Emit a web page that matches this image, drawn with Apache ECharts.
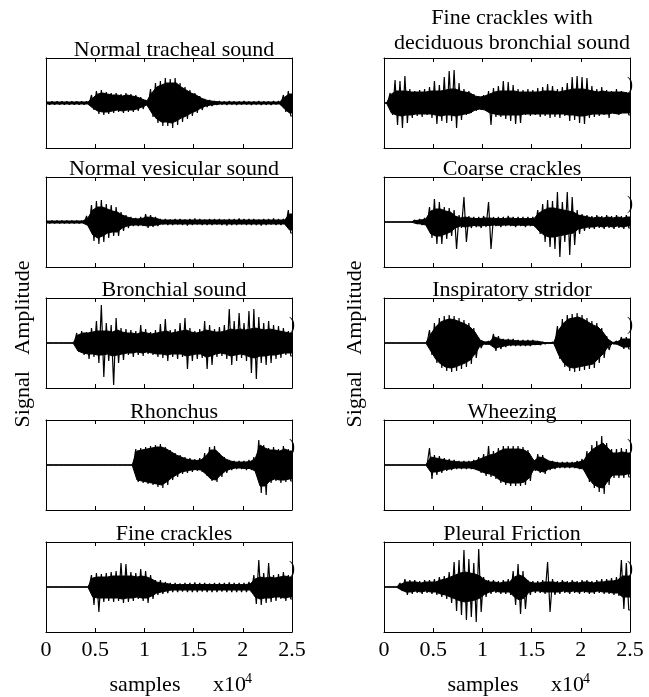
<!DOCTYPE html>
<html><head><meta charset="utf-8">
<script src="https://cdn.jsdelivr.net/npm/echarts@6/dist/echarts.min.js"></script>
<style>html,body{margin:0;padding:0;background:#fff}#c{width:649px;height:697px}</style>
</head><body><div id="c"></div>
<script>
// ---- data: per recording, 50 bins of 500 samples.
// *Hi / *Lo : peak excursion above / below zero in each bin
// *CoreHi / *CoreLo : level of the dense (solid) part of the trace in each bin
const binSize = 500;
const xMax = 25000;
const xTickLabels = ['0', '0.5', '1', '1.5', '2', '2.5'];
const xTitle = 'samples';
const xScale = 'x10';
const xScaleExp = '4';
const yTitle = 'Signal   Amplitude';

const titles = ['Normal tracheal sound', 'Normal vesicular sound', 'Bronchial sound', 'Rhonchus', 'Fine crackles',
  'Fine crackles with\ndeciduous bronchial sound', 'Coarse crackles', 'Inspiratory stridor', 'Wheezing', 'Pleural Friction'];

const trachealHi = [1.5,1.5,1.5,1.5,1.5,1.5,1.5,1.5,1.5, 8,12,13,11,10,10,9,10,9,8,6,3, 14,20,22,25,24,25,20,16,13,10,7,4,3,2, 2,1.5,2,1.5,1.5,2,1.5,1.5,2,1.5,1.5,2,2, 8,12];
const trachealLo = [1.5,1.5,1.5,1.5,1.5,1.5,1.5,1.5,1.5, 7,11,12,11,10,9,10,9,9,8,6,3, 14,20,23,23,25,22,19,16,13,10,7,4,3,2, 1.5,2,1.5,2,1.5,1.5,2,1.5,2,1.5,2,1.5,2, 9,13];
const trachealCoreHi = [1,1,1,1,1,1,1,1,1, 5,9,10,9,8,8,7,8,7,6,4,2, 10,16,18,20,20,20,16,13,10,8,5,3,2,1.5, 1,1,1,1,1,1,1,1,1,1,1,1,1, 6,9];
const trachealCoreLo = [1,1,1,1,1,1,1,1,1, 5,8,9,9,8,7,8,7,7,6,4,2, 10,16,19,19,20,18,15,13,10,8,5,3,2,1.5, 1,1,1,1,1,1,1,1,1,1,1,1,1, 6,10];

const vesicularHi = [1.2,1.2,1.2,1.2,1.2,1.2,1.2,1.2, 6,17,21,22,18,17,15,10,7,5,4,5,8,7,5, 3,3,2.5,3,3,2.5,3,3.5,3,2.5,3,3,3,2.5,3,3,3.5,3,3,3,2.5,3,3,3.5,3,3, 12];
const vesicularLo = [1.2,1.2,1.2,1.2,1.2,1.2,1.2,1.2, 5,19,22,20,16,14,14,9,6,4,4,4,6,5,4, 2.5,3,3,2.5,3,3.5,3,2.5,3,3,3,2.5,3,3.5,3,3,2.5,3,3,3,3.5,3,2.5,3,3,3, 11];
const vesicularCoreHi = [1,1,1,1,1,1,1,1, 4,12,15,15,13,11,10,7,5,3.5,3,3.5,5,4.5,3.5, 2,2,2,2,2,2,2,2,2,2,2,2,2,2,2,2,2,2,2,2,2,2,2,2,2,2, 8];
const vesicularCoreLo = [1,1,1,1,1,1,1,1, 3.5,13,16,14,11,10,10,6,4,3,3,3,4,3.5,3, 2,2,2,2,2,2,2,2,2,2,2,2,2,2,2,2,2,2,2,2,2,2,2,2,2,2, 8];

const bronchialHi = [0,0,0,0,0,0, 10,12,11,15,22,38,20,18,25,15,14,13,12,18,14,11,13,19,24,13,14,20,25,15,12,14,22,18,14,16,18,34,22,30,20,32,34,26,20,22,18,17,15,12];
const bronchialLo = [0,0,0,0,0,0, 9,12,16,14,20,34,18,42,20,17,12,14,12,13,11,12,14,15,18,14,16,14,26,18,16,15,26,22,14,13,16,22,18,15,18,30,36,20,22,20,16,15,12,13];
const bronchialCoreHi = [0,0,0,0,0,0, 8,10,10,11,12,12,12,11,13,11,10,10,9,11,10,9,10,11,12,10,11,12,13,11,10,11,13,12,11,11,12,14,13,14,13,14,15,14,13,14,13,12,11,10];
const bronchialCoreLo = [0,0,0,0,0,0, 8,10,11,11,12,12,11,13,12,11,10,10,9,10,9,10,11,11,12,11,11,11,13,12,11,11,14,13,11,10,11,13,12,11,12,14,15,13,13,12,12,11,10,10];

const rhonchusHi = [0,0,0,0,0,0,0,0,0,0,0,0,0,0,0,0,0,0, 16,17,18,19,20,21,18,15,12,10,8,7,6,7,12,18,19,12,8,5,4,4,4,5,8,25,20,17,18,16,19,16];
const rhonchusLo = [0,0,0,0,0,0,0,0,0,0,0,0,0,0,0,0,0,0, 17,18,19,20,22,23,20,15,12,9,8,7,6,7,11,16,17,12,8,5,4,4,5,5,8,28,30,18,16,18,17,16];
const rhonchusCoreHi = [0,0,0,0,0,0,0,0,0,0,0,0,0,0,0,0,0,0, 14,15,16,17,18,18,16,13,10,8,6,5,4.5,5,9,15,15,10,6,4,3,3,3,3.5,6,20,17,15,15,14,16,14];
const rhonchusCoreLo = [0,0,0,0,0,0,0,0,0,0,0,0,0,0,0,0,0,0, 15,16,17,18,19,20,17,13,10,7,6,5,4.5,5,9,14,15,10,6,4,3,3,3.5,3.5,6,21,21,16,14,15,15,14];

const fineHi = [0,0,0,0,0,0,0,0,0, 12,14,13,14,15,16,24,23,15,14,18,16,12,7,7,5, 4,4,3.5,4,4,4.5,4,4,3.5,4,4,4,4.5,4,4,4, 5,12,27,14,24,12,13,15,12];
const fineLo = [0,0,0,0,0,0,0,0,0, 18,25,15,14,15,14,16,15,14,12,14,16,12,8,7,6, 5,5,4.5,5,5,5,4.5,5,5,5,4.5,5,5,5,5,5, 5,17,18,16,15,14,12,14,12];
const fineCoreHi = [0,0,0,0,0,0,0,0,0, 9,10,10,10,11,11,11,11,11,10,11,10,8,5,4,3.5, 2.5,2.5,2.5,2.5,2.5,2.5,2.5,2.5,2.5,2.5,2.5,2.5,2.5,2.5,2.5,2.5, 3,8,10,9,10,9,10,11,10];
const fineCoreLo = [0,0,0,0,0,0,0,0,0, 10,11,11,11,11,11,12,11,11,10,11,11,9,6,5,4, 3,3,3,3,3,3,3,3,3,3,3,3,3,3,3,3, 3,10,12,11,11,10,10,11,10];

const fineBronchHi = [0, 10,23,22,27,14,12,13,14,16,22,18,26,32,33,20,14,12,9,7,8,12,15,17,22,21,18,14,13,14,13,15,16,19,17,14,16,20,26,27,26,25,17,14,16,13,12,14,12,11];
const fineBronchLo = [0, 12,22,25,20,15,13,14,12,15,21,18,20,18,25,17,12,10,8,7,8,22,14,14,16,18,21,20,12,13,12,14,13,15,14,15,13,18,17,20,21,15,14,13,12,15,11,12,10,12];
const fineBronchCoreHi = [0, 9,12,12,12,11,11,11,11,12,12,12,13,14,14,12,11,10,7,6,7,9,11,12,12,12,12,11,11,11,11,11,12,12,12,11,12,13,14,14,14,13,12,11,12,11,11,11,11,10];
const fineBronchCoreLo = [0, 10,12,13,12,12,11,11,11,11,12,13,12,12,13,12,11,10,7,6,7,10,11,12,12,12,12,12,11,11,11,11,11,11,11,11,11,12,12,13,13,12,11,11,11,11,10,11,10,10];

const coarseHi = [0,0,0,0,0,0, 2,3,4,15,23,20,15,14,12,7,25,6,5,5,6,20,5,5,5,6,5,5,5,5,5,12,18,22,21,30,20,30,25,12,8,7,6,7,6,7,6,7,6,7];
const coarseLo = [0,0,0,0,0,0, 2,3,4,16,22,22,17,14,27,6,20,6,5,6,5,27,4,5,4,4,5,4,5,4,5,12,20,25,27,35,20,33,23,12,9,7,7,6,7,6,7,6,7,6];
const coarseCoreHi = [0,0,0,0,0,0, 1.5,2,3,11,13,13,11,10,6,4,5,4,3.5,3.5,4,4,3.5,3.5,3.5,4,3.5,3.5,3.5,3.5,3.5,9,12,14,14,13,12,11,10,7,6,5,4,5,4,5,4,5,4,5];
const coarseCoreLo = [0,0,0,0,0,0, 1.5,2,3,12,14,14,12,10,6,4,5,4,3.5,4,3.5,3.5,3,3.5,3,3,3.5,3,3.5,3,3.5,9,13,15,15,14,13,12,11,7,6,5,5,4,5,4,5,4,5,4];

const stridorHi = [0,0,0,0,0,0,0,0,0, 13,20,25,27,28,27,25,23,20,15,5,1.5,2,9,7,4,4,4,3,3,3,3,2,1,0.5,1,17,24,28,29,30,28,25,22,20,15,7,1,2,6,6];
const stridorLo = [0,0,0,0,0,0,0,0,0, 12,20,25,28,29,28,26,24,21,15,5,1.5,2,8,6,4,3,3,3,3,3,2,2,1,0.5,1,16,24,28,29,28,27,26,25,20,15,7,1,2,6,6];
const stridorCoreHi = [0,0,0,0,0,0,0,0,0, 9,16,21,23,24,23,21,19,16,11,3,1,1.5,6,4,3,3,2.5,2,2,2,2,1.5,0.5,0.3,0.5,13,20,24,25,26,24,21,18,16,11,4,0.5,1.5,4,4];
const stridorCoreLo = [0,0,0,0,0,0,0,0,0, 8,16,21,24,25,24,22,20,17,11,3,1,1.5,5,4,3,2,2,2,2,2,1.5,1.5,0.5,0.3,0.5,12,20,24,25,24,23,22,21,16,11,4,0.5,1.5,4,4];

const wheezeHi = [0,0,0,0,0,0,0,0,0, 17,10,9,7,6,5,4,4,4,5,8,11,19,14,17,19,19,19,19,18,15,6,11,10,5,4,3,3,3,3,4,6,14,20,24,29,22,16,16,17,16];
const wheezeLo = [0,0,0,0,0,0,0,0,0, 14,10,8,6,5,4,4,4,4,5,8,11,12,14,18,20,21,21,21,20,16,6,8,9,5,4,3,3,3,3,4,6,17,23,27,29,20,13,13,13,12];
const wheezeCoreHi = [0,0,0,0,0,0,0,0,0, 8,7,6,5,4,3.5,3,3,3,4,6,8,10,11,14,16,16,16,16,15,12,4,8,7,4,3,2,2,2,2,3,4,11,16,19,22,17,12,12,13,12];
const wheezeCoreLo = [0,0,0,0,0,0,0,0,0, 7,7,6,4.5,4,3,3,3,3,4,6,8,9,11,15,17,18,18,18,17,13,4,6,7,4,3,2,2,2,2,3,4,13,19,22,23,16,10,10,10,9];

const pleuralHi = [0,0,0, 4,8,7,7,6,7,7,8,10,11,15,25,27,37,28,24,38,10,7,7,6,7,8,16,23,16,7,6,6,7,25,8,6,7,6,7,6,7,7,6,7,8,8,9,10,27,24];
const pleuralLo = [0,0,0, 4,8,7,6,7,6,7,8,10,12,16,24,28,33,30,35,25,10,7,6,7,7,8,18,27,22,8,6,6,7,25,8,7,6,7,6,7,6,7,7,6,7,7,8,9,22,23];
const pleuralCoreHi = [0,0,0, 3,5,5,5,4,5,5,5,7,8,10,12,14,15,14,13,11,7,5,5,4,5,5,10,12,10,5,4,4,5,5,5,4,5,4,5,4,5,5,4,5,5,6,6,7,11,11];
const pleuralCoreLo = [0,0,0, 3,5,5,4,5,4,5,5,7,8,10,12,14,15,14,13,11,7,5,4,5,5,5,10,13,11,5,4,4,5,5,5,5,4,5,4,5,4,5,5,4,5,5,6,6,10,10];

const his = [trachealHi, vesicularHi, bronchialHi, rhonchusHi, fineHi, fineBronchHi, coarseHi, stridorHi, wheezeHi, pleuralHi];
const los = [trachealLo, vesicularLo, bronchialLo, rhonchusLo, fineLo, fineBronchLo, coarseLo, stridorLo, wheezeLo, pleuralLo];
const coreHis = [trachealCoreHi, vesicularCoreHi, bronchialCoreHi, rhonchusCoreHi, fineCoreHi, fineBronchCoreHi, coarseCoreHi, stridorCoreHi, wheezeCoreHi, pleuralCoreHi];
const coreLos = [trachealCoreLo, vesicularCoreLo, bronchialCoreLo, rhonchusCoreLo, fineCoreLo, fineBronchCoreLo, coarseCoreLo, stridorCoreLo, wheezeCoreLo, pleuralCoreLo];
// panels that show the clipped ")" artefact at their right edge
const parenPanels = [2, 3, 4, 5, 6, 7, 8, 9];

// ---- layout ----
const FONT = 'Liberation Serif';
const colLeft = [46, 384];
const W = 246;
const rowTop = [58, 177, 298, 420, 542];
const H = 90;
const AMP = 45;

function toXY(arr, sign) {
  const out = [[0, sign * arr[0]]];
  arr.forEach((v, i) => out.push([binSize * i + binSize / 2, sign * v]));
  out.push([xMax, sign * arr[arr.length - 1]]);
  return out;
}
// oscillating trace: positive peak in first half of each bin, negative peak in second half
function toTrace(hi, lo) {
  const out = [[0, hi[0]]];
  hi.forEach((v, i) => {
    out.push([binSize * i + binSize / 4, v]);
    out.push([binSize * i + 3 * binSize / 4, -lo[i]]);
  });
  out.push([xMax, -lo[lo.length - 1]]);
  return out;
}

const grid = [], xAxis = [], yAxis = [], series = [], title = [], graphic = [];
for (let k = 0; k < 10; k++) {
  const col = Math.floor(k / 5), row = k % 5;
  const left = colLeft[col], top = rowTop[row];
  grid.push({left: left, top: top, width: W, height: H, show: false});
  const axBase = {
    type: 'value', gridIndex: k, min: 0, max: xMax, interval: 5000,
    axisLine: {show: true, onZero: false, lineStyle: {color: '#000', width: 1}},
    axisTick: {show: true, inside: true, length: 4, lineStyle: {color: '#000', width: 1}},
    splitLine: {show: false}
  };
  xAxis.push(Object.assign({}, axBase, {
    position: 'bottom',
    axisLabel: {show: row === 4, margin: 7, color: '#000', fontFamily: FONT, fontSize: 22,
      formatter: v => xTickLabels[Math.round(v / 5000)]}
  }));
  xAxis.push(Object.assign({}, axBase, {position: 'top', axisLabel: {show: false}}));
  const yBase = {type: 'value', gridIndex: k, min: -AMP, max: AMP,
    axisLine: {show: true, onZero: false, lineStyle: {color: '#000', width: 1}},
    axisTick: {show: false}, axisLabel: {show: false}, splitLine: {show: false}};
  yAxis.push(Object.assign({}, yBase, {position: 'left'}));
  yAxis.push(Object.assign({}, yBase, {position: 'right'}));
  [[coreHis[k], 1], [coreLos[k], -1]].forEach(([arr, s]) => {
    series.push({
      type: 'line', xAxisIndex: 2 * k, yAxisIndex: 2 * k, data: toXY(arr, s),
      showSymbol: false, symbol: 'none', silent: true,
      lineStyle: {color: '#000', width: 1},
      areaStyle: {color: '#000', opacity: 1, origin: 0}
    });
  });
  series.push({
    type: 'line', xAxisIndex: 2 * k, yAxisIndex: 2 * k, data: toTrace(his[k], los[k]),
    showSymbol: false, symbol: 'none', silent: true,
    lineStyle: {color: '#000', width: 1.2}
  });
  const two = titles[k].indexOf('\n') >= 0;
  title.push({
    text: titles[k], left: left + W / 2, top: two ? 1 : top - 25, textAlign: 'center',
    textStyle: {fontFamily: FONT, fontSize: 22, fontWeight: 'normal', color: '#000', lineHeight: 25}
  });
  if (parenPanels.indexOf(k) >= 0) {
    graphic.push({type: 'text', left: left + W - 3, top: top + 18,
      style: {text: ')', font: '18px "Liberation Serif"', fill: '#000'}});
  }
}

[0, 1].forEach(col => {
  const left = colLeft[col];
  graphic.push({type: 'text', x: col === 0 ? 23 : 355, y: 344, rotation: Math.PI / 2,
    style: {text: yTitle, font: '22px "Liberation Serif"', fill: '#000', align: 'center', verticalAlign: 'middle'}});
  graphic.push({type: 'text', x: left + 99, y: 685,
    style: {text: xTitle, font: '22px "Liberation Serif"', fill: '#000', align: 'center', verticalAlign: 'middle'}});
  graphic.push({type: 'text', x: left + 167, y: 685,
    style: {text: xScale, font: '22px "Liberation Serif"', fill: '#000', align: 'left', verticalAlign: 'middle'}});
  graphic.push({type: 'text', x: left + 199, y: 679,
    style: {text: xScaleExp, font: '14px "Liberation Serif"', fill: '#000', align: 'left', verticalAlign: 'middle'}});
});

const chart = echarts.init(document.getElementById('c'), null, {renderer: 'canvas'});
chart.setOption({animation: false, backgroundColor: '#fff', title, grid, xAxis, yAxis, series, graphic});
</script>
</body></html>
